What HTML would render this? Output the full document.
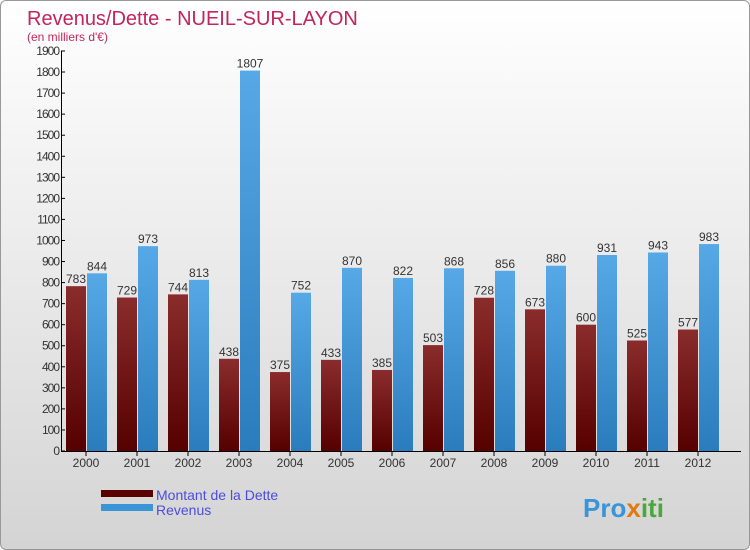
<!DOCTYPE html>
<html><head><meta charset="utf-8"><style>
body{margin:0;width:750px;height:550px;overflow:hidden;font-family:"Liberation Sans",sans-serif}
#wrap{position:absolute;left:0;top:0;width:748px;height:548px;border:1px solid #999;border-radius:6px;background:linear-gradient(#fff,#d4d4d4);overflow:hidden}
</style></head><body>
<div id="wrap">
<svg id="c" width="750" height="550">
<defs>
<linearGradient id="gd" x1="0" y1="0" x2="0" y2="1"><stop offset="0" stop-color="#8a2c2c"/><stop offset="1" stop-color="#560000"/></linearGradient>
<linearGradient id="gr" x1="0" y1="0" x2="0" y2="1"><stop offset="0" stop-color="#56a8e6"/><stop offset="1" stop-color="#2a7cbc"/></linearGradient>
</defs>
<text x="26" y="24" font-size="20" fill="#c2255c">Revenus/Dette - NUEIL-SUR-LAYON</text>
<text x="26" y="40" font-size="12" fill="#c2255c">(en milliers d'€)</text>
<g id="bars"></g>
<g id="axes"></g>
<rect x="100" y="489" width="52" height="7" fill="#5a0000"/>
<rect x="100" y="503" width="52" height="7" fill="#3a94d8"/>
<text x="155" y="499" font-size="14" fill="#4c4cdd">Montant de la Dette</text>
<text x="155" y="514" font-size="14" fill="#4c4cdd">Revenus</text>
<text x="582" y="516" font-size="26" font-weight="bold" fill="#3a94d8">Pro<tspan fill="#e07a10">x</tspan><tspan fill="#4aa83a">iti</tspan></text>
</svg>
</div>
<script>
const years=["2000","2001","2002","2003","2004","2005","2006","2007","2008","2009","2010","2011","2012"];
const dette=[783,729,744,438,375,433,385,503,728,673,600,525,577];
const revenus=[844,973,813,1807,752,870,822,868,856,880,931,943,983];
const yTicks=[0,100,200,300,400,500,600,700,800,900,1000,1100,1200,1300,1400,1500,1600,1700,1800,1900];
const NS="http://www.w3.org/2000/svg";
const y=v=>450-v*400/1900;
const xc=i=>85+i*51;
const bars=document.getElementById('bars'),axes=document.getElementById('axes');
function mk(p,tag,a,txt){const e=document.createElementNS(NS,tag);for(const k in a)e.setAttribute(k,a[k]);if(txt!==undefined)e.textContent=txt;p.appendChild(e);return e;}
years.forEach((yr,i)=>{
 const c=xc(i);
 let r=mk(bars,'rect',{x:c-20,y:y(dette[i]),width:20,height:450-y(dette[i]),fill:'url(#gd)'});
 
 
 r=mk(bars,'rect',{x:c+1,y:y(revenus[i]),width:20,height:450-y(revenus[i]),fill:'url(#gr)'});
 
 
 let t=mk(bars,'text',{x:c-10,y:y(dette[i])-3,'font-size':12,fill:'#333','text-anchor':'middle'},dette[i]);
 
 
 t=mk(bars,'text',{x:c+11,y:y(revenus[i])-3,'font-size':12,fill:'#333','text-anchor':'middle'},revenus[i]);
 
 
 mk(axes,'line',{x1:c,x2:c,y1:450,y2:455,stroke:'#000'});
 t=mk(axes,'text',{x:c,y:466,'font-size':12,fill:'#333','text-anchor':'middle'},yr);
 
 
});
yTicks.forEach(v=>{
 mk(axes,'line',{x1:60,x2:64,y1:y(v),y2:y(v),stroke:'#000'});
 const t=mk(axes,'text',{x:58,y:y(v)+4,'font-size':12,fill:'#333','text-anchor':'end','letter-spacing':'-1'},v);
 
 
});
let l=mk(axes,'line',{x1:60.5,x2:60.5,y1:50,y2:450,stroke:'#000'});


l=mk(axes,'line',{x1:60,x2:740,y1:450.5,y2:450.5,stroke:'#000'});


</script>
</body></html>
